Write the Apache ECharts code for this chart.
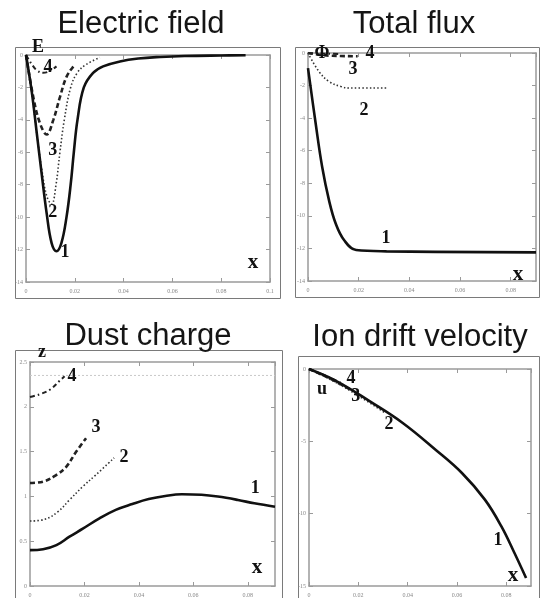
<!DOCTYPE html>
<html>
<head>
<meta charset="utf-8">
<script src="https://cdn.jsdelivr.net/npm/echarts@6/dist/echarts.min.js"></script>
<style>
  html, body { margin: 0; padding: 0; background: #fff; }
  #chart { width: 540px; height: 598px; }
</style>
</head>
<body>
<div id="chart"></div>
<script>
// ── Data ──────────────────────────────────────────────────────────────────────

// Electric field E(x), curves 1..4
const fieldCurve1 = [[0,0],[0.0023,-2.2],[0.0044,-4.8],[0.0064,-7.3],[0.0085,-9.8],[0.0105,-11.6],[0.0125,-12.1],[0.0145,-11.6],[0.0166,-10.0],[0.0183,-8.0],[0.0196,-6.0],[0.0211,-4.0],[0.0237,-2.0],[0.0275,-1.1],[0.0316,-0.7],[0.0385,-0.4],[0.046,-0.22],[0.055,-0.12],[0.065,-0.06],[0.08,-0.03],[0.09,-0.02]];
const fieldCurve2 = [[0,0],[0.0023,-2.2],[0.0044,-4.8],[0.0064,-7.0],[0.0085,-8.7],[0.0105,-9.2],[0.0123,-8.0],[0.0139,-6.0],[0.0157,-4.0],[0.0183,-2.0],[0.021,-1.1],[0.0245,-0.6],[0.0303,-0.15]];
const fieldCurve3 = [[0,0],[0.003,-2.6],[0.0057,-4.2],[0.0085,-4.9],[0.0112,-4.0],[0.0139,-2.6],[0.0166,-1.35],[0.0194,-0.72],[0.0205,-0.62]];
const fieldCurve4 = [[0,0],[0.0025,-0.6],[0.0045,-0.95],[0.007,-1.1],[0.0095,-1.0],[0.0125,-0.7]];

// Total flux Φ(x)
const fluxCurve1 = [[0,-0.93],[0.003,-4.3],[0.0056,-7.0],[0.0083,-9.05],[0.011,-10.5],[0.0143,-11.5],[0.019,-12.1],[0.031,-12.18],[0.09,-12.24]];
const fluxCurve2 = [[0,0],[0.0043,-1.13],[0.0083,-1.75],[0.013,-2.06],[0.0163,-2.15],[0.0316,-2.15]];
const fluxCurve3 = [[0,0],[0.005,-0.12],[0.0096,-0.17],[0.0196,-0.2]];
const fluxCurve4 = [[0,0],[0.006,-0.04],[0.013,-0.06]];

// Dust charge z(x)
const chargeCurve1 = [[0,0.40],[0.0048,0.41],[0.0097,0.456],[0.0145,0.55],[0.0194,0.64],[0.0255,0.755],[0.0315,0.85],[0.0376,0.915],[0.0436,0.97],[0.0497,1.005],[0.0558,1.024],[0.063,1.018],[0.069,0.998],[0.0764,0.96],[0.0824,0.923],[0.09,0.885]];
const chargeCurve2 = [[0,0.725],[0.0055,0.745],[0.0103,0.83],[0.0145,0.96],[0.0194,1.11],[0.0242,1.24],[0.0309,1.43]];
const chargeCurve3 = [[0,1.15],[0.0048,1.165],[0.0097,1.24],[0.0133,1.33],[0.017,1.50],[0.0206,1.65]];
const chargeCurve4 = [[0,2.11],[0.0036,2.14],[0.0073,2.19],[0.0109,2.29],[0.0127,2.34]];
const chargeRefLine = [[0,2.35],[0.09,2.35]];

// Ion drift velocity u(x)
const velocityCurve1 = [[0,0],[0.0113,-0.85],[0.0247,-2.24],[0.038,-3.73],[0.0513,-5.58],[0.062,-7.19],[0.0713,-9.03],[0.078,-10.88],[0.0833,-12.72],[0.088,-14.45]];
const velocityCurve2 = [[0,0],[0.01,-0.85],[0.02,-1.85],[0.031,-3.05]];
const velocityCurve3 = [[0,0],[0.008,-0.62],[0.017,-1.45]];
const velocityCurve4 = [[0,0],[0.007,-0.48],[0.014,-1.05]];

// Panel titles and axis ranges
const panelTitles = ['Electric field', 'Total flux', 'Dust charge', 'Ion drift velocity'];
const xRanges = [[0, 0.1, 0.02], [0, 0.09, 0.02], [0, 0.09, 0.02], [0, 0.09, 0.02]];
const yRanges = [[-14, 0, 2], [-14, 0, 2], [0, 2.5, 0.5], [-15, 0, 5]];

// In-plot annotations: [text, x, y]
const fieldLabels    = [['E',0.0049,0.45],['4',0.009,-0.74],['3',0.011,-5.86],['2',0.011,-9.7],['1',0.016,-12.15],['x',0.093,-12.8]];
const fluxLabels     = [['Φ',0.0055,0],['4',0.0245,0],['3',0.0178,-0.98],['2',0.0221,-3.5],['1',0.0308,-11.36],['x',0.0829,-13.6]];
const chargeLabels   = [['z',0.0044,2.61],['4',0.0154,2.34],['3',0.0242,1.77],['2',0.0345,1.44],['1',0.0827,1.085],['x',0.0834,0.21]];
const velocityLabels = [['u',0.0053,-1.44],['4',0.017,-0.68],['3',0.019,-1.92],['2',0.0324,-3.84],['1',0.0766,-11.85],['x',0.0827,-14.3]];

// ── Layout ────────────────────────────────────────────────────────────────────

const grids = [
  { left: 26,  top: 55,  width: 244, height: 227 },
  { left: 308, top: 53,  width: 228, height: 228 },
  { left: 30,  top: 362, width: 245, height: 224 },
  { left: 309, top: 369, width: 222, height: 219 },
];
const frames = [
  [15, 47, 265, 251],
  [295, 47, 244, 250],
  [15, 350, 267, 248],
  [298, 356, 241, 242],
];
const titlePos = [[141, 24], [414, 24], [148, 336], [420, 337]];

const curveSets = [
  [fieldCurve1, fieldCurve2, fieldCurve3, fieldCurve4],
  [fluxCurve1, fluxCurve2, fluxCurve3, fluxCurve4],
  [chargeCurve1, chargeCurve2, chargeCurve3, chargeCurve4],
  [velocityCurve1, velocityCurve2, velocityCurve3, velocityCurve4],
];
const labelSets = [fieldLabels, fluxLabels, chargeLabels, velocityLabels];

const lineStyles = [
  { color: '#111', width: 2.6, type: 'solid' },
  { color: '#333', width: 1.6, type: [1.5, 2.2] },
  { color: '#222', width: 2.6, type: [5, 3] },
  { color: '#222', width: 2.0, type: [5, 3, 1.5, 3] },
];

const AXIS_GRAY = '#9a9a9a';
const tickFont = { fontSize: 6, color: '#888', fontFamily: 'Liberation Serif' };

function _xAxis(i, top) {
  const [min, max, step] = xRanges[i];
  return {
    type: 'value', gridIndex: i, position: top ? 'top' : 'bottom',
    min, max, interval: step,
    axisLine: { show: true, onZero: false, lineStyle: { color: AXIS_GRAY, width: 1.5 } },
    axisTick: { show: true, inside: true, length: 4, lineStyle: { color: AXIS_GRAY } },
    axisLabel: top ? { show: false } : { ...tickFont, margin: 6, showMaxLabel: max === 0.1 },
    splitLine: { show: false },
  };
}

function _yAxis(i, right) {
  const [min, max, step] = yRanges[i];
  return {
    type: 'value', gridIndex: i, position: right ? 'right' : 'left',
    min, max, interval: step,
    axisLine: { show: true, onZero: false, lineStyle: { color: AXIS_GRAY, width: 1.5 } },
    axisTick: { show: true, inside: true, length: 4, lineStyle: { color: AXIS_GRAY } },
    axisLabel: right ? { show: false } : { ...tickFont, margin: 3 },
    splitLine: { show: false },
  };
}

const xAxes = [], yAxes = [], series = [];
grids.forEach((g, i) => {
  xAxes.push(_xAxis(i, false), _xAxis(i, true));
  yAxes.push(_yAxis(i, false), _yAxis(i, true));
  curveSets[i].forEach((data, k) => {
    series.push({
      type: 'line', data,
      xAxisIndex: 2 * i, yAxisIndex: 2 * i,
      showSymbol: false, symbol: 'none',
      smooth: 0.4,
      lineStyle: lineStyles[k],
      z: 10 - k,
    });
  });
});
series.push({
  type: 'line', data: chargeRefLine,
  xAxisIndex: 4, yAxisIndex: 4, symbol: 'none',
  lineStyle: { color: '#c8c8c8', width: 1, type: [2, 2] },
  z: 1,
});

// ── Render ────────────────────────────────────────────────────────────────────

const chart = echarts.init(document.getElementById('chart'), null, { renderer: 'canvas' });
chart.setOption({
  backgroundColor: '#fff',
  animation: false,
  grid: grids.map(g => ({ ...g, show: false })),
  xAxis: xAxes,
  yAxis: yAxes,
  series,
});

const elements = [];
frames.forEach(([x, y, w, h]) => {
  elements.push({
    type: 'rect', shape: { x: x + 0.5, y: y + 0.5, width: w, height: h },
    style: { fill: 'none', stroke: '#7a7a7a', lineWidth: 1 }, silent: true,
  });
});
panelTitles.forEach((t, i) => {
  elements.push({
    type: 'text', x: titlePos[i][0], y: titlePos[i][1],
    style: { text: t, font: '31px "Liberation Sans"', fill: '#151515', align: 'center', verticalAlign: 'middle' },
    silent: true,
  });
});
labelSets.forEach((labels, i) => {
  labels.forEach(([t, x, y]) => {
    const [px, py] = chart.convertToPixel({ xAxisIndex: 2 * i, yAxisIndex: 2 * i }, [x, y]);
    const size = t === 'x' ? 21 : 18;
    elements.push({
      type: 'text', x: px, y: py, z: 100,
      style: { text: t, font: `bold ${size}px "Liberation Serif"`, fill: '#111', align: 'center', verticalAlign: 'middle' },
      silent: true,
    });
  });
});
chart.setOption({ graphic: { elements } });
</script>
</body>
</html>
